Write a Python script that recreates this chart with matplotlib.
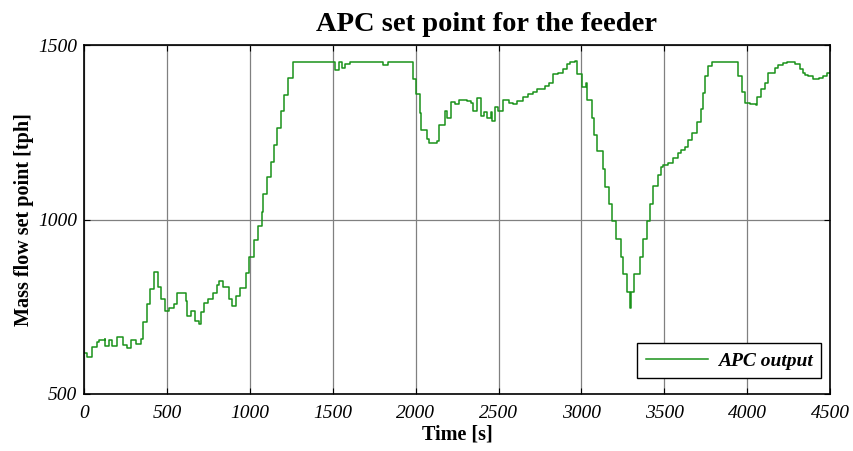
import matplotlib
matplotlib.use('Agg')
import matplotlib.pyplot as plt

# APC output: step changes (time [s], set point [tph])
times = [0, 18, 48, 77, 90, 127, 128, 151, 169, 199, 235, 259, 283, 314, 344,
         356, 380, 398, 422, 446, 464, 489, 513, 543, 561, 615, 621, 645, 669,
         694, 706, 724, 748, 778, 802, 814, 838, 875, 893, 917, 941, 977, 997,
         1025, 1049, 1074, 1080, 1104, 1128, 1146, 1164, 1188, 1206, 1230, 1261,
         1514, 1538, 1556, 1574, 1604, 1803, 1834, 1984, 2002, 2027, 2033, 2069,
         2081, 2129, 2141, 2177, 2189, 2214, 2238, 2262, 2310, 2334, 2346, 2370,
         2394, 2413, 2431, 2455, 2461, 2479, 2497, 2527, 2563, 2587, 2612, 2648,
         2678, 2708, 2732, 2780, 2805, 2829, 2859, 2889, 2913, 2931, 2961, 2973,
         3004, 3025, 3031, 3064, 3076, 3094, 3130, 3142, 3166, 3185, 3209, 3239,
         3251, 3275, 3293, 3302, 3317, 3353, 3372, 3396, 3414, 3432, 3462, 3480,
         3492, 3522, 3553, 3583, 3601, 3625, 3643, 3667, 3697, 3721, 3733, 3745,
         3764, 3788, 3945, 3969, 3987, 4017, 4053, 4059, 4083, 4107, 4125, 4168,
         4186, 4216, 4240, 4288, 4318, 4336, 4349, 4367, 4397, 4433, 4457, 4481,
         4500]
values = [617, 606, 635, 649, 655, 657, 637, 655, 637, 663, 640, 632, 655, 643, 657,
          706, 758, 801, 850, 807, 772, 738, 746, 758, 789, 766, 723, 738, 709,
          700, 735, 761, 772, 789, 812, 823, 807, 772, 752, 781, 804, 847, 893,
          941, 981, 1023, 1073, 1122, 1165, 1213, 1262, 1311, 1358, 1406, 1452,
          1429, 1452, 1433, 1445, 1452, 1443, 1452, 1403, 1360, 1306, 1257, 1232,
          1218, 1224, 1272, 1312, 1292, 1338, 1332, 1343, 1340, 1335, 1312, 1349,
          1297, 1309, 1292, 1309, 1283, 1324, 1312, 1343, 1335, 1332, 1340, 1352,
          1360, 1366, 1375, 1384, 1392, 1417, 1420, 1432, 1446, 1452, 1455, 1417,
          1381, 1392, 1343, 1292, 1243, 1196, 1145, 1093, 1044, 996, 944, 893,
          844, 793, 746, 793, 844, 893, 944, 996, 1044, 1096, 1127, 1150,
          1156, 1162, 1176, 1190, 1199, 1207, 1227, 1247, 1279, 1317, 1363, 1411,
          1440, 1452, 1411, 1366, 1335, 1331, 1328, 1352, 1375, 1392, 1420, 1435,
          1443, 1449, 1452, 1446, 1432, 1420, 1415, 1411, 1403, 1406, 1411, 1420,
          1420]

x_ticks = [0, 500, 1000, 1500, 2000, 2500, 3000, 3500, 4000, 4500]
y_ticks = [500, 1000, 1500]

plt.rcParams['font.family'] = ['Liberation Serif', 'DejaVu Serif']

fig = plt.figure(figsize=(8.54, 4.51), dpi=100)
ax = fig.add_axes([0.0984, 0.1264, 0.8736, 0.7736])

ax.step(times, values, where='post', color='#1a921a', linewidth=1.1, label='APC output')

ax.set_xlim(0, 4500)
ax.set_ylim(500, 1500)
ax.set_xticks(x_ticks)
ax.set_yticks(y_ticks)
ax.tick_params(direction='in', top=True, right=True, length=4, width=0.8,
               labelsize=14)
ax.tick_params(axis='x', pad=8)
ax.tick_params(axis='y', pad=5)
for lab in ax.get_xticklabels() + ax.get_yticklabels():
    lab.set_fontstyle('italic')

ax.grid(True, color='#808080', linewidth=0.9)
for sp in ax.spines.values():
    sp.set_color('black')
    sp.set_linewidth(1.2)

ax.set_title('APC set point for the feeder', fontsize=20.5, fontweight='bold',
             pad=10, x=0.539)
ax.set_xlabel('Time [s]', fontsize=14.5, fontweight='bold', labelpad=2)
ax.set_ylabel('Mass flow set point [tph]', fontsize=14.5, fontweight='bold', labelpad=3)

leg = ax.legend(loc='lower right', bbox_to_anchor=(0.988, 0.045), fancybox=False,
                framealpha=1, edgecolor='black', borderpad=0.45, handlelength=3.2,
                handletextpad=0.5, borderaxespad=0,
                prop={'style': 'italic', 'weight': 'bold', 'size': 14})
leg.get_frame().set_linewidth(1.0)

fig.savefig('out.png', dpi=100)
